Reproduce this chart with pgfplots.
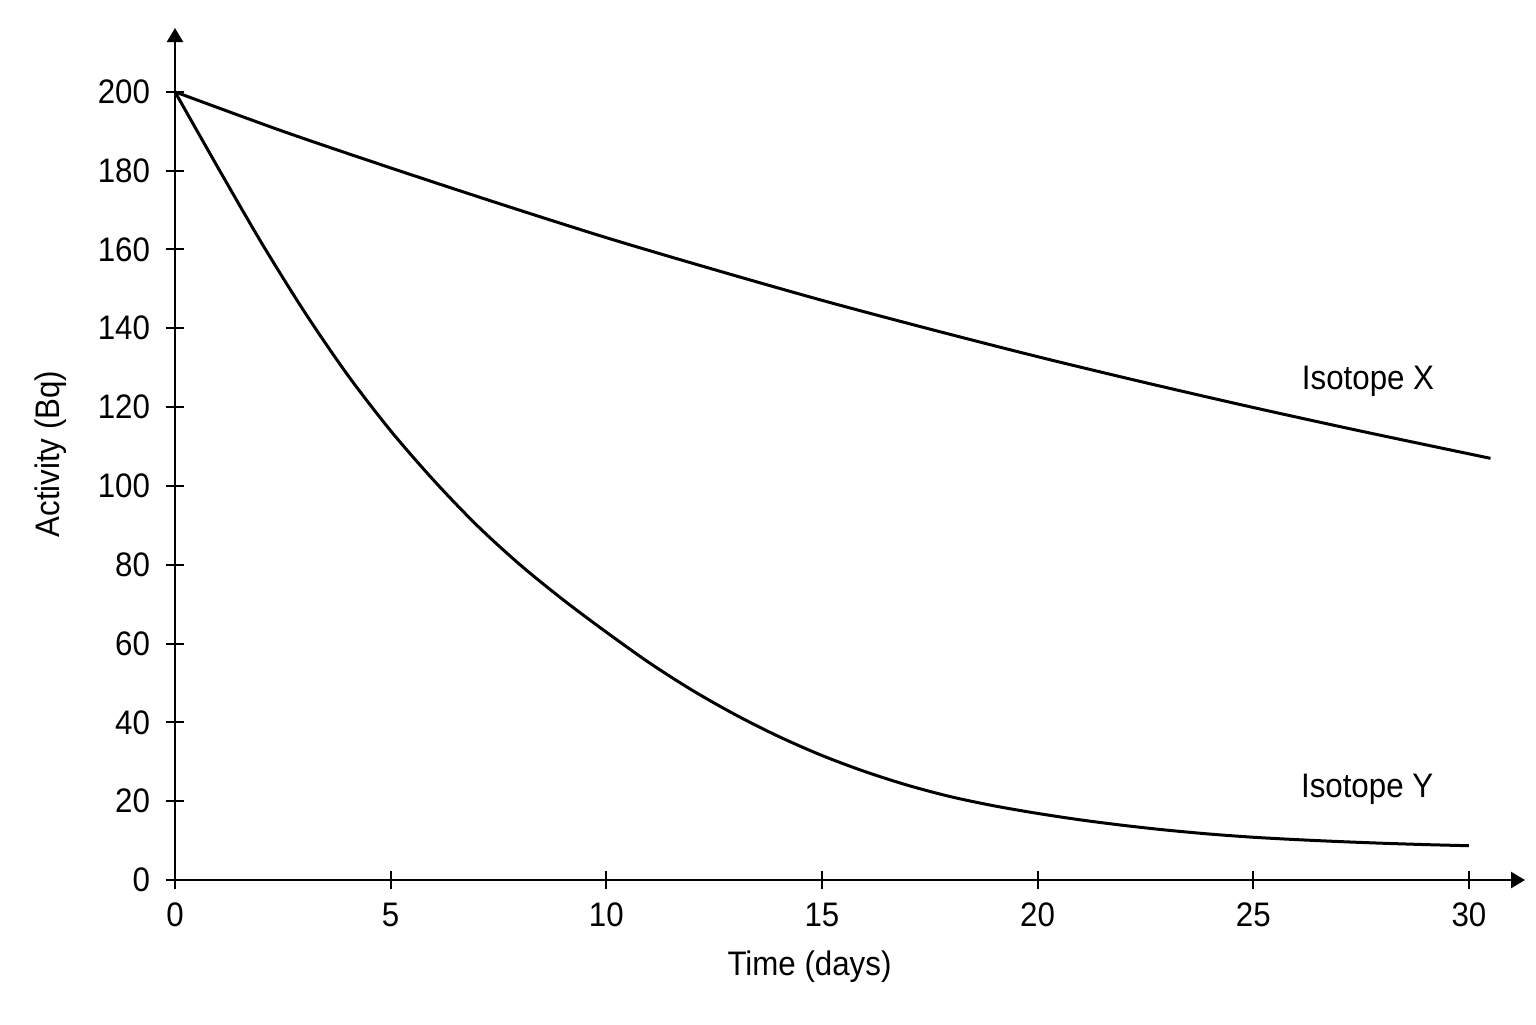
\documentclass[border=0pt]{standalone}
\usepackage{pgfplots}
\pgfplotsset{compat=1.18}
\usetikzlibrary{arrows.meta}
\usepackage{fontspec}
\setmainfont[FakeStretch=0.92]{Liberation Sans}

\begin{document}
\fontsize{17}{20}\selectfont
\begin{tikzpicture}
\path (-87.5pt,-72pt) rectangle (680.5pt,440pt);
\begin{axis}[%
	scale only axis,
	width=675pt,
	height=426pt,
	axis lines=left,
	axis line style={line width=1.2pt,-{Triangle[length=7pt,width=8pt]}},
	xmin=0, xmax=31.3,
	ymin=0, ymax=216.2,
	xtick={0,5,...,30},
	ytick={0,20,...,200},
	tick align=center,
	major tick length=9.3pt,
	tick style={line width=1pt,black},
	/pgf/number format/assume math mode=true,
	ticklabel style={font=\fontsize{17}{20}\selectfont},
	xticklabel style={yshift=-1pt},
	yticklabel style={xshift=-2pt},
	xlabel={Time (days)},
	ylabel={Activity (Bq)},
	xlabel style={at={(axis description cs:0.47,0)},anchor=center,yshift=-43.5pt},
	ylabel style={at={(axis description cs:0,0.5)},anchor=center,yshift=62pt},
	clip=false]

%%% Isotope X
\addplot[black,line width=1.5pt,smooth] coordinates {
(0,200) (2.5,190.0) (5,180.7) (7.5,171.7) (10,163.0) (12.5,154.9)
(15,147.1) (17.5,139.8) (20,132.8) (22.5,126.2) (25,119.9)
(27.5,113.9) (30.5,107.0)
};

%%% Isotope Y
\addplot[black,line width=1.5pt,smooth] coordinates {
(0,200) (1,180.7) (2,161.8) (3,144.2) (4,128.2) (5,114.0) (6,101.4)
(7,90.0) (8,80.0) (9,71.1) (10,62.9) (11,55.1) (12,48.1) (13,41.9)
(14,36.4) (15,31.6) (16,27.5) (17,24.0) (18,21.1) (19,18.8)
(20,16.9) (21,15.25) (22,13.85) (23,12.65) (24,11.65) (25,10.85)
(26,10.25) (27,9.75) (28,9.33) (29,8.98) (30,8.7)
};

\node at (axis cs:27.66,126.6) {Isotope X};
\node at (axis cs:27.64,23.1) {Isotope Y};

\end{axis}
\end{tikzpicture}
\end{document}
